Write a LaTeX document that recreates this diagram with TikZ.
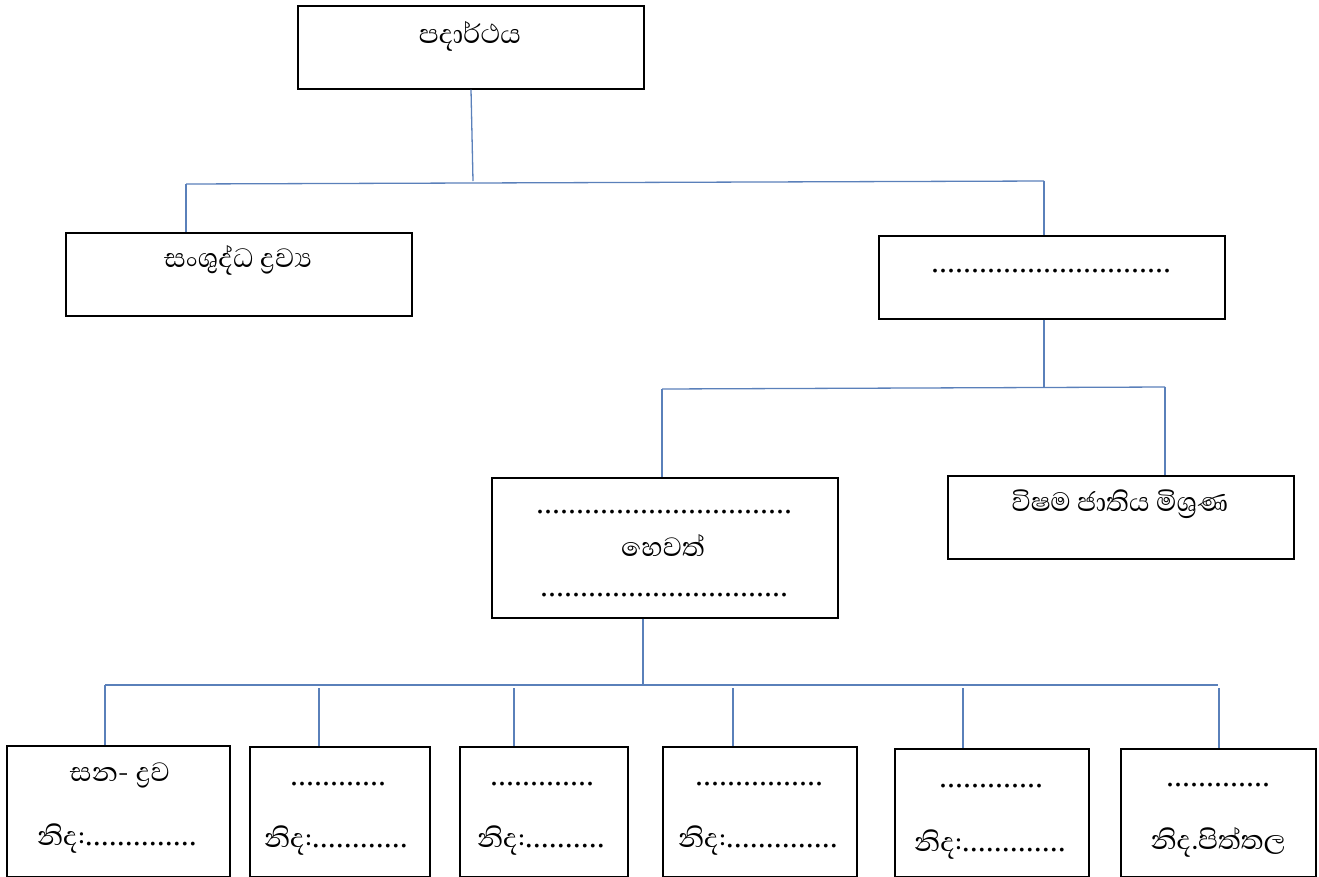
\documentclass[tikz,border=0pt]{standalone}
\usepackage{fontspec}
\newfontfamily\sinhalafont[Script=Sinhala]{Abhaya Libre}
\newfontfamily\dotfont{Liberation Serif}
\definecolor{conn}{HTML}{5A80BA}
\tikzset{
  box/.style={draw=black, line width=1.6pt, inner sep=0pt, fill=white},
  txt/.style={font=\sinhalafont\fontsize{34}{38}\selectfont, inner sep=0pt, anchor=base},
  link/.style={draw=conn, line width=1.3pt}
}
\newcommand{\dts}[1]{{\dotfont\fontsize{32}{36}\selectfont #1}}
\begin{document}
\begin{tikzpicture}[x=1pt,y=-1pt]
\useasboundingbox (0,0) rectangle (1319,876);
% boxes
\node[box, anchor=north west, minimum width=346pt, minimum height=83pt] (top) at (297,5) {};
\node[box, anchor=north west, minimum width=346pt, minimum height=83pt] (pure) at (65,232) {};
\node[box, anchor=north west, minimum width=346pt, minimum height=83pt] (mix) at (878,235) {};
\node[box, anchor=north west, minimum width=346pt, minimum height=140pt] (homo) at (491,477) {};
\node[box, anchor=north west, minimum width=346pt, minimum height=83pt] (hetero) at (947,475) {};
\node[box, anchor=north west, minimum width=223pt, minimum height=131pt] (b1) at (6,745) {};
\node[box, anchor=north west, minimum width=180pt, minimum height=130pt] (b2) at (249,746) {};
\node[box, anchor=north west, minimum width=168pt, minimum height=130pt] (b3) at (459,746) {};
\node[box, anchor=north west, minimum width=194pt, minimum height=130pt] (b4) at (662,746) {};
\node[box, anchor=north west, minimum width=194pt, minimum height=128pt] (b5) at (894,748) {};
\node[box, anchor=north west, minimum width=195pt, minimum height=128pt] (b6) at (1120,748) {};
% texts
\node[txt] (t1) at (470,43) {පදාර්ථය};
\node[txt] (t2) at (238,267) {සංශුද්ධ ද්‍රව්‍ය};
\node[txt] (t3) at (1051,272) {\dts{..............................}};
\node[txt] (t4a) at (664,513) {\dts{................................}};
\node[txt] (t4b) at (663,556) {හෙවත්};
\node[txt] (t4c) at (664,596) {\dts{...............................}};
\node[txt] (t5) at (1120,511) {විෂම ජාතිය මිශ්‍රණ};
\node[txt] (b1a) at (120,781) {සන- ද්‍රව};
\node[txt] (b1b) at (117,845) {නිද:\dts{..............}};
\node[txt] (b2a) at (338,785) {\dts{............}};
\node[txt] (b2b) at (336,847) {නිද:\dts{............}};
\node[txt] (b3a) at (542,785) {\dts{.............}};
\node[txt] (b3b) at (541,847) {නිද:\dts{..........}};
\node[txt] (b4a) at (759,785) {\dts{................}};
\node[txt] (b4b) at (758,847) {නිද:\dts{..............}};
\node[txt] (b5a) at (991,787) {\dts{.............}};
\node[txt] (b5b) at (990,851) {නිද:\dts{.............}};
\node[txt] (b6a) at (1218,786) {\dts{.............}};
\node[txt] (b6b) at (1218,849) {නිද.පිත්තල};
% junction coordinates
\coordinate (j1) at (473,181);
\coordinate (h1l) at (186,184);
\coordinate (h1r) at (1044,181);
\coordinate (j2) at (1044,387);
\coordinate (h2l) at (662,389);
\coordinate (h2r) at (1165,387);
\coordinate (j3) at (643,685);
\coordinate (h3l) at (105,685);
\coordinate (h3r) at (1218,685);
\coordinate (v2) at (319,688);
\coordinate (v3) at (514,688);
\coordinate (v4) at (733,688);
\coordinate (v5) at (963,688);
\coordinate (v6) at (1219,688);
% connectors
\draw[link] (top.south -| 471,0) -- (j1);
\draw[link] (h1l) -- (h1r);
\draw[link] (h1l) -- (h1l |- pure.north);
\draw[link] (h1r) -- (h1r |- mix.north);
\draw[link] (mix.south -| j2) -- (j2);
\draw[link] (h2l) -- (h2r);
\draw[link] (h2l) -- (h2l |- homo.north);
\draw[link] (h2r) -- (h2r |- hetero.north);
\draw[link] (homo.south -| j3) -- (j3);
\draw[link] (h3l) -- (h3r);
\draw[link] (h3l) -- (h3l |- b1.north);
\draw[link] (v2) -- (v2 |- b2.north);
\draw[link] (v3) -- (v3 |- b3.north);
\draw[link] (v4) -- (v4 |- b4.north);
\draw[link] (v5) -- (v5 |- b5.north);
\draw[link] (v6) -- (v6 |- b6.north);
\end{tikzpicture}
\end{document}
